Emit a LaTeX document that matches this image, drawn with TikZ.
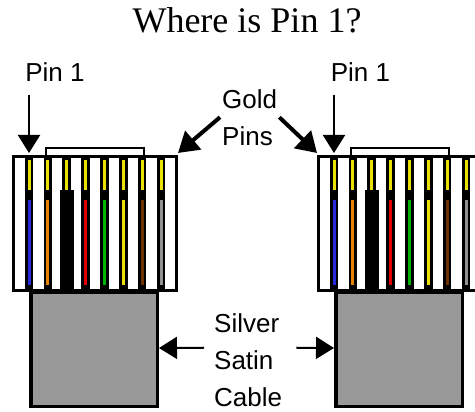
\documentclass[tikz,border=0pt]{standalone}
\usepackage{fontspec}
\setmainfont{Liberation Serif}
\setsansfont{Liberation Sans}
\usetikzlibrary{arrows.meta, positioning, calc}

\definecolor{wireblue}{RGB}{40,40,220}
\definecolor{wireorange}{RGB}{230,130,0}
\definecolor{wirered}{RGB}{225,0,0}
\definecolor{wiregreen}{RGB}{0,180,0}
\definecolor{wireyellow}{RGB}{235,225,0}
\definecolor{wirebrown}{RGB}{110,50,0}
\definecolor{wiregray}{RGB}{145,145,145}
\definecolor{contact}{RGB}{235,225,0}
\definecolor{satin}{RGB}{153,153,153}

\tikzset{
  lbl/.style={font=\sffamily\fontsize{26}{37}\selectfont, inner sep=2pt, align=left},
  arr/.style={line width=2pt, -{Triangle[width=22pt,length=18pt]}},
  fatarr/.style={line width=4pt, -{Triangle[width=24pt,length=20pt]}},
}

\begin{document}
\begin{tikzpicture}[x=1pt, y=-1pt]
  \clip (0,0) rectangle (475,412);
  \node[font=\rmfamily\fontsize{36}{40}\selectfont, anchor=base] (title) at (247,33) {Where is Pin 1?};

  % the two plugs, the second one shifted to the right
  \foreach \ox/\nm in {0/L, 305/R} {
    \begin{scope}[xshift=\ox pt]
      \draw[line width=2.5pt, fill=white] (46,148) rectangle (144,156);
      \fill[white] (12,155) rectangle (178,292);
      \foreach \c [count=\i from 0] in {wireblue, wireorange, black, wirered, wiregreen, wireyellow, wirebrown, wiregray} {
        \pgfmathsetmacro\px{29+18.86*\i}
        \fill[black] (\px-4.3,155) rectangle (\px+4.3,292);
        \fill[contact] (\px-1.5,160) rectangle (\px+1.5,190);
        \fill[\c] (\px-1.5,200) rectangle (\px+1.5,285);
      }
      \fill[black] (60,190) rectangle (74,290);
      \draw[line width=3pt] (13.5,156.5) rectangle (176.5,290.5);
      \draw[line width=3.5pt, fill=satin] (30.75,292) rectangle (157.25,406.25);
      \coordinate (pin\nm) at (29,153);
      \coordinate (nw\nm) at (12,153);
      \coordinate (ne\nm) at (178,153);
      \coordinate (cw\nm) at (29,348);
      \coordinate (ce\nm) at (159,348);
    \end{scope}
  }

  \node[lbl, anchor=base] (pinlabelL) at (55,81.5) {Pin 1};
  \node[lbl, anchor=base] (pinlabelR) at (360.5,81.5) {Pin 1};
  \draw[arr, shorten <=11pt] (pinlabelL.south -| pinL) -- (pinL);
  \draw[arr, shorten <=11pt] (pinlabelR.south -| pinR) -- (pinR);

  \node[lbl, anchor=north west] (gold) at (220,87) {Gold\\Pins};
  \draw[fatarr] (gold.west) -- (neL);
  \draw[fatarr] (gold.east) -- (nwR);

  \node[lbl, anchor=north west] (silver) at (212,311) {Silver\\Satin\\Cable};
  \draw[arr] ([shift={(-8pt,12pt)}]silver.west) -- (ceL);
  \draw[arr] ([shift={(12pt,12pt)}]silver.east) -- (cwR);
\end{tikzpicture}
\end{document}
